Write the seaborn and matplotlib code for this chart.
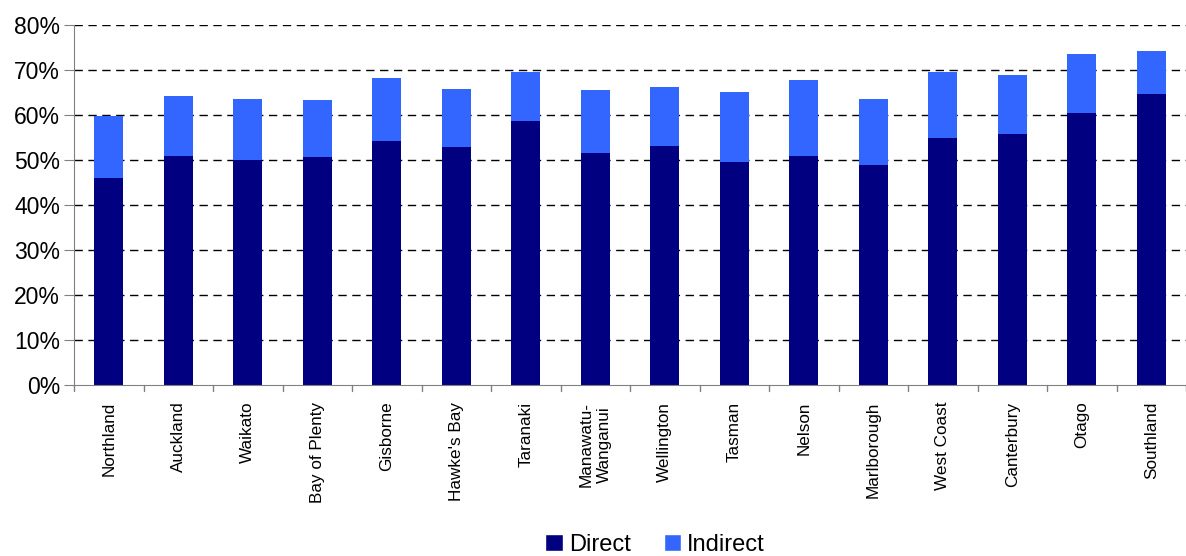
import matplotlib
matplotlib.use("Agg")
import matplotlib.pyplot as plt
import seaborn as sns
import pandas as pd
from matplotlib.patches import Patch
from matplotlib.ticker import FuncFormatter, MultipleLocator

regions = ["Northland", "Auckland", "Waikato", "Bay of Plenty", "Gisborne", "Hawke's Bay",
           "Taranaki", "Manawatu-\nWanganui", "Wellington", "Tasman", "Nelson", "Marlborough",
           "West Coast", "Canterbury", "Otago", "Southland"]
direct = [46.0, 50.9, 50.0, 50.7, 54.2, 52.9, 58.7, 51.6, 53.1, 49.6, 50.9, 48.9, 54.9, 55.8, 60.4, 64.7]
indirect = [13.8, 13.3, 13.6, 12.6, 14.0, 12.9, 10.9, 14.0, 13.1, 15.5, 16.9, 14.7, 14.7, 13.1, 13.2, 9.5]

c_direct = "#000080"
c_indirect = "#3366FF"

df = pd.DataFrame({"region": regions, "direct": direct, "indirect": indirect})
df["total"] = df["direct"] + df["indirect"]

sns.set_style("white")
plt.rcParams["font.family"] = ["Liberation Sans", "DejaVu Sans"]
plt.rcParams["text.color"] = "black"
plt.rcParams["xtick.labelcolor"] = "black"
plt.rcParams["ytick.labelcolor"] = "black"

fig = plt.figure(figsize=(11.86, 5.56), dpi=100)
ax = fig.add_axes([74 / 1186, 1 - 385 / 556, (1186 - 74) / 1186, 360 / 556])

sns.barplot(data=df, x="region", y="total", color=c_indirect, width=0.42, ax=ax,
            saturation=1, zorder=3, linewidth=0)
sns.barplot(data=df, x="region", y="direct", color=c_direct, width=0.42, ax=ax,
            saturation=1, zorder=3, linewidth=0)

ax.set_ylim(0, 80)
ax.set_xlim(-0.5, len(regions) - 0.5)
ax.yaxis.set_major_locator(MultipleLocator(10))
ax.yaxis.set_major_formatter(FuncFormatter(lambda v, p: f"{int(round(v))}%"))
for y in range(10, 81, 10):
    ax.axhline(y, color="black", linestyle=(0, (6, 4)), linewidth=1, zorder=1)

ax.set_xlabel("")
ax.set_ylabel("")
for s in ["top", "right"]:
    ax.spines[s].set_visible(False)
ax.spines["left"].set_color("#808080")
ax.spines["bottom"].set_color("#808080")
ax.spines["left"].set_zorder(4)
ax.spines["bottom"].set_zorder(4)

ax.tick_params(axis="y", labelsize=16.5, length=7, color="#808080", left=True, pad=3,
               labelcolor="black")
ax.set_xticks(range(len(regions)))
ax.set_xticklabels(regions, rotation=90, fontsize=12.3, ha="center", va="top",
                   multialignment="center", color="black")
ax.tick_params(axis="x", length=0, pad=12)
for b in range(len(regions) + 1):
    ax.plot([b - 0.5, b - 0.5], [0, -1.3], color="#808080", lw=1, clip_on=False, zorder=4)

handles = [Patch(facecolor=c_direct, label="Direct"), Patch(facecolor=c_indirect, label="Indirect")]
fig.legend(handles=handles, loc="center", bbox_to_anchor=(655 / 1186, 1 - 545 / 556), ncol=2,
           frameon=False, fontsize=17, handlelength=0.75, handleheight=0.75,
           handletextpad=0.25, columnspacing=1.4, labelcolor="black")

fig.savefig("out.png", dpi=100)
